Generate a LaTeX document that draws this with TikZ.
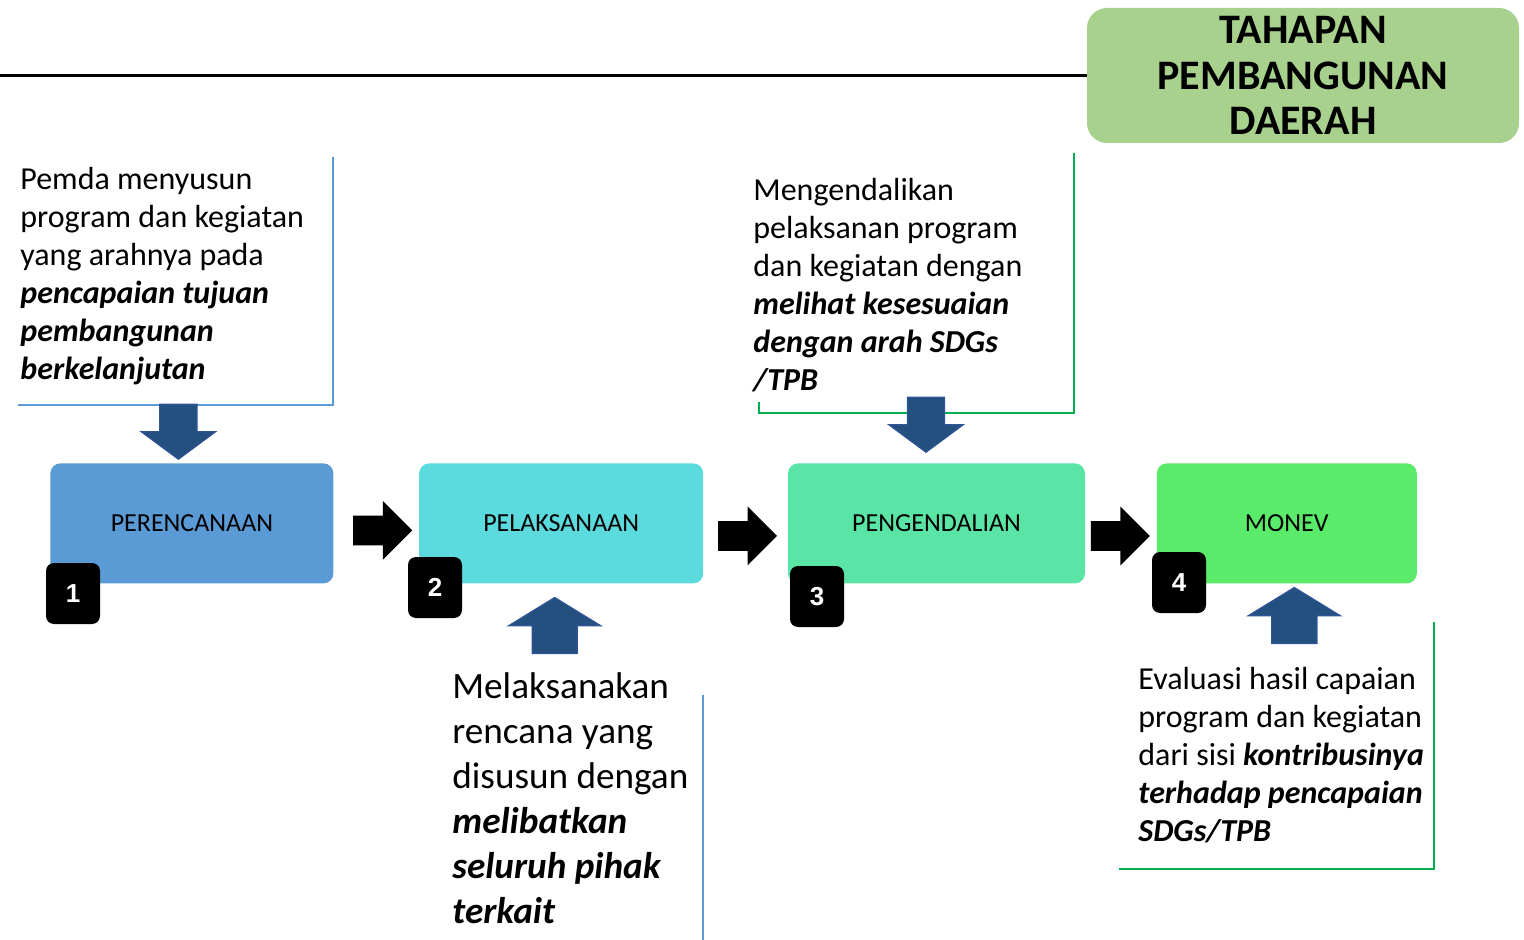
\documentclass[tikz,border=0pt]{standalone}
\usepackage{fontspec}
\setmainfont{Carlito}
\newfontfamily\numfont{Liberation Sans}
\usetikzlibrary{positioning, shapes.arrows}

\definecolor{planblue}{HTML}{5B9BD5}
\definecolor{doteal}{HTML}{5BDBDE}
\definecolor{ctrlgreen}{HTML}{5AE5A6}
\definecolor{evalgreen}{HTML}{5AEB6B}
\definecolor{titlegreen}{HTML}{A9D18E}
\definecolor{arrowblue}{HTML}{24507F}
\definecolor{arrowedge}{HTML}{2F5597}
\definecolor{lineblue}{HTML}{5B9BD5}
\definecolor{linegreen}{HTML}{00B050}

\begin{document}
\begin{tikzpicture}[
    x=0.5pt, y=-0.5pt,
    stage/.style  ={rectangle, rounded corners=5pt, minimum height=60pt, inner sep=0pt, font=\fontsize{13}{15}\selectfont},
    badge/.style  ={rectangle, rounded corners=4pt, fill=black, text=white, minimum width=27pt, minimum height=30.5pt, inner sep=0pt, font=\numfont\bfseries\fontsize{13}{15}\selectfont},
    push/.style   ={single arrow, fill=black, inner xsep=0pt, inner ysep=7.25pt, minimum width=29pt, minimum height=29.5pt, single arrow head extend=7.25pt},
    downarr/.style={single arrow, rotate=-90, fill=arrowblue, draw=arrowedge, line width=0.6pt, inner xsep=0pt, inner ysep=9pt,
                    minimum width=36.5pt, minimum height=27.5pt, single arrow head extend=9.25pt, single arrow tip angle=107},
    uparr/.style  ={single arrow, rotate=90, fill=arrowblue, draw=arrowedge, line width=0.6pt, inner xsep=0pt, inner ysep=11pt,
                    minimum width=45.5pt, minimum height=28pt, single arrow head extend=11.75pt, single arrow tip angle=117},
    note/.style   ={align=left, inner sep=0pt, anchor=base west, font=\fontsize{16}{19}\selectfont},
    bignote/.style={note, font=\fontsize{18.6}{22.5}\selectfont},
    frame/.style  ={line width=1pt},
    title/.style  ={rectangle, rounded corners=10pt, fill=titlegreen, minimum width=216pt, minimum height=67.5pt, inner sep=0pt,
                    align=center, font=\bfseries\fontsize{21}{22.8}\selectfont},
]
\useasboundingbox (0,0) rectangle (1524,940);

% text frames
\draw[frame, lineblue]  (333,157) |- (18,405);
\draw[frame, linegreen] (1074,153) |- (759,413) -- (759,402);
\draw[frame, lineblue]  (703,695) -- (703,940);
\draw[frame, linegreen] (1434,622) |- (1119,869);

% heading
\node[title] (ttl) at (1303,75.5) {TAHAPAN\\PEMBANGUNAN\\DAERAH};
\draw[line width=1.2pt] (ttl.west) -- ++(-1087,0);

% stages
\node[stage, fill=planblue,  minimum width=141.5pt, anchor=north west] (pre) at (50,463) {PERENCANAAN};
\node[stage, fill=doteal,    minimum width=142pt,   right=42.5pt of pre] (pel) {PELAKSANAAN};
\node[stage, fill=ctrlgreen, minimum width=148.5pt, right=42pt of pel]   (pen) {PENGENDALIAN};
\node[stage, fill=evalgreen, minimum width=130pt,   right=35.5pt of pen] (mon) {MONEV};

\node[push, anchor=tip] (p1) at ([shift={(-6,7)}]pel.west) {};
\node[push, anchor=tip] (p2) at ([shift={(-10,12.5)}]pen.west) {};
\node[push, anchor=tip] (p3) at ([shift={(-6,12.5)}]mon.west) {};

\node[downarr, anchor=tip] (d1) at ([shift={(-13.5,-3)}]pre.north) {};
\node[downarr, anchor=tip] (d3) at ([shift={(-10.5,-10)}]pen.north) {};
\node[uparr,   anchor=tip] (u2) at ([shift={(-6.5,13)}]pel.south) {};
\node[uparr,   anchor=tip] (u4) at ([shift={(7.5,3)}]mon.south) {};

\node[badge] (n1) at (73,593.5)   {1};
\node[badge] (n2) at (435,587.5)  {2};
\node[badge] (n3) at (817,596.5)  {3};
\node[badge] (n4) at (1179,582.5) {4};

% descriptions (anchored on the last baseline)
\node[note] (t1) at (20,380) {Pemda menyusun\\program dan kegiatan\\yang arahnya pada\\
    \textbf{\textit{pencapaian tujuan}}\\\textbf{\textit{pembangunan}}\\\textbf{\textit{berkelanjutan}}};
\node[bignote] (t2) at (452,923) {Melaksanakan\\rencana yang\\disusun dengan\\
    \textbf{\textit{melibatkan}}\\\textbf{\textit{seluruh pihak}}\\\textbf{\textit{terkait}}};
\node[note] (t3) at (753,391) {Mengendalikan\\pelaksanan program\\dan kegiatan dengan\\
    \textbf{\textit{melihat kesesuaian}}\\\textbf{\textit{dengan arah SDGs}}\\\textbf{\textit{/TPB}}};
\node[note] (t4) at (1138,841) {Evaluasi hasil capaian\\program dan kegiatan\\dari sisi \textbf{\textit{kontribusinya}}\\
    \textbf{\textit{terhadap pencapaian}}\\\textbf{\textit{SDGs/TPB}}};

\end{tikzpicture}
\end{document}
